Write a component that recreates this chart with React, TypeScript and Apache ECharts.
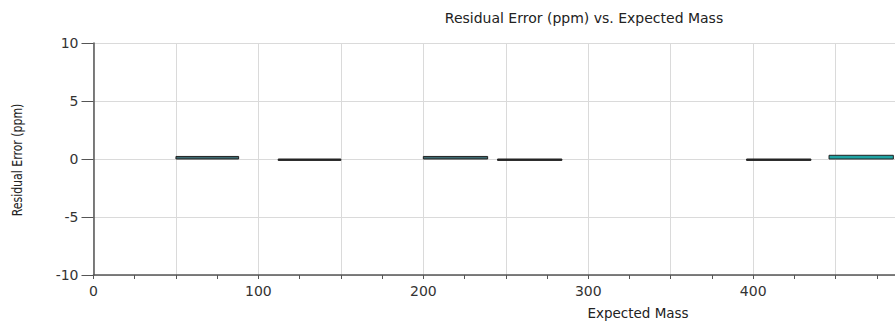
import React, { useEffect, useRef } from "react";
import * as echarts from "echarts";

const binStart = [50, 112, 200, 245, 396, 446];
const binEnd = [88, 150, 239, 284, 435, 485];
const residuals = [0.22, -0.12, 0.22, -0.12, -0.12, 0.32];
const barColors = ["#3d6a70", "#2a2a2a", "#3d6a70", "#2a2a2a", "#2a2a2a", "#1fa3a3"];

const yTicks = [-10, -5, 0, 5, 10];
const xLabelValues = [0, 100, 200, 300, 400];

export default function App() {
  const ref = useRef<HTMLDivElement>(null);
  useEffect(() => {
    if (!ref.current) return;
    const chart = echarts.init(ref.current, null, { renderer: "svg" });
    const data = binStart.map((s, i) => [s, binEnd[i], residuals[i], i]);
    const font = "DejaVu Sans, Verdana, sans-serif";
    chart.setOption({
      animation: false,
      backgroundColor: "#ffffff",
      grid: { left: 93.5, top: 43, right: 0, bottom: 47, containLabel: false },
      xAxis: {
        type: "value",
        min: 0,
        max: 486,
        interval: 50,
        axisLine: { show: true, onZero: false, lineStyle: { color: "#555", width: 1.5 } },
        axisTick: { show: true, length: 4, lineStyle: { color: "#555" } },
        minorTick: { show: true, splitNumber: 2, length: 4, lineStyle: { color: "#555" } },
        splitLine: { show: true, lineStyle: { color: "#dadada", width: 1 } },
        axisLabel: {
          color: "#333",
          fontSize: 14,
          fontFamily: font,
          margin: 9,
          showMaxLabel: false,
          formatter: (v: number) => (xLabelValues.includes(v) ? String(v) : ""),
        },
      },
      yAxis: {
        type: "value",
        min: yTicks[0],
        max: yTicks[yTicks.length - 1],
        interval: 5,
        axisLine: { show: true, lineStyle: { color: "#555", width: 1.5 } },
        axisTick: { show: true, length: 12, lineStyle: { color: "#555" } },
        splitLine: { show: true, lineStyle: { color: "#dadada", width: 1 } },
        axisLabel: {
          color: "#333",
          fontSize: 14,
          fontFamily: font,
          margin: 15,
        },
      },
      graphic: [
        {
          type: "text",
          x: 584,
          y: 18,
          style: {
            text: "Residual Error (ppm) vs. Expected Mass",
            fontSize: 14,
            fontFamily: font,
            fill: "#222",
            textAlign: "center",
            textVerticalAlign: "middle",
          },
        },
        {
          type: "text",
          x: 638,
          y: 313,
          style: {
            text: "Expected Mass",
            fontSize: 13.5,
            fontFamily: font,
            fill: "#222",
            textAlign: "center",
            textVerticalAlign: "middle",
          },
        },
        {
          type: "text",
          x: 18,
          y: 160,
          rotation: Math.PI / 2,
          scaleX: 0.81,
          style: {
            text: "Residual Error (ppm)",
            fontSize: 13.5,
            fontFamily: font,
            fill: "#222",
            textAlign: "center",
            textVerticalAlign: "middle",
          },
        },
      ],
      series: [
        {
          type: "custom",
          data,
          renderItem: (params: any, api: any) => {
            const a = api.coord([api.value(0), 0]);
            const b = api.coord([api.value(1), api.value(2)]);
            const idx = api.value(3);
            return {
              type: "rect",
              shape: {
                x: a[0],
                y: Math.min(a[1], b[1]),
                width: b[0] - a[0],
                height: Math.max(Math.abs(b[1] - a[1]), 1),
              },
              style: { fill: barColors[idx], stroke: "#222", lineWidth: 1 },
            };
          },
        },
      ],
    });
    return () => chart.dispose();
  }, []);
  return (
    <div
      ref={ref}
      style={{ position: "fixed", left: 0, top: 0, width: 895, height: 322 }}
    />
  );
}
